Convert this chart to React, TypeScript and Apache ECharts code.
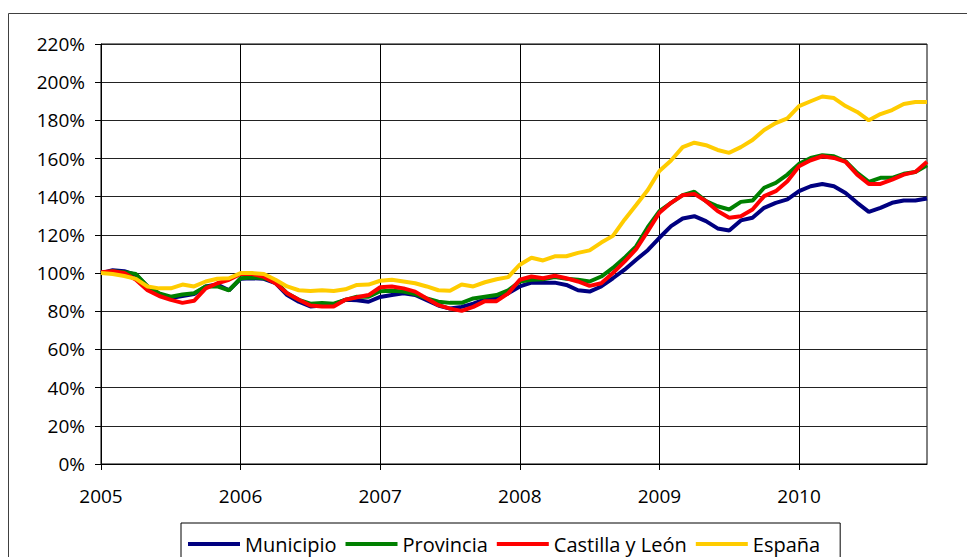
import React, { useEffect, useRef } from "react";
import * as echarts from "echarts";

const YEARS = ["2005", "2006", "2007", "2008", "2009", "2010"];
const MONTHS = ["01", "02", "03", "04", "05", "06", "07", "08", "09", "10", "11", "12"];
const CATEGORIES = YEARS.flatMap((y) => MONTHS.map((m) => `${y}-${m}`));

const SERIES_NAMES = ["Municipio", "Provincia", "Castilla y León", "España"];
const COLORS = ["#000080", "#008000", "#FF0000", "#FFCC00"];

const MUNICIPIO = [
  100, 101.5, 101, 99, 93, 89, 87, 88, 89, 93, 94, 91,
  97, 97.3, 97, 94.7, 88.5, 85, 82.5, 83, 83.5, 86, 85.8, 85,
  87.5, 88.5, 89.4, 88.5, 85.8, 83, 81.4, 82.3, 84, 86.2, 86.7, 89.4,
  93, 95, 95, 95, 93.8, 91, 90.3, 93, 97.3, 101.8, 107, 112,
  118.5, 124.6, 128.6, 129.8, 127.2, 123.4, 122.3, 127.6, 129, 134.2, 136.8, 138.6,
  142.9, 145.5, 146.7, 145.5, 142, 136.8, 132.1, 134.2, 136.8, 138, 138, 139.1,
];

const PROVINCIA = [
  100, 101, 100.5, 99.5, 93, 89.4, 87.6, 88.8, 89.4, 93, 93, 91,
  97.3, 97.7, 97.3, 95.6, 89.4, 86, 84, 84.4, 84, 86, 87.6, 87.6,
  90.5, 90.8, 90.3, 89, 86.7, 85, 84.4, 84.4, 86.7, 87.6, 88.5, 91,
  95.6, 96.5, 96.8, 97.9, 97, 96.5, 95.6, 98.2, 102.7, 108, 114, 124,
  132.5, 136.8, 140.8, 142.6, 137.7, 135, 133.3, 137.3, 138, 144.7, 147.3, 151.6,
  157.2, 160.3, 161.7, 161.2, 158.6, 152.5, 147.8, 149.9, 149.9, 152, 153, 156.5,
];

const CASTILLA_LEON = [
  100.5, 101, 100, 96.5, 91, 88, 86, 84.4, 85.5, 92, 94.7, 96.5,
  99.5, 99.5, 98, 94.7, 89.4, 86, 83, 82.5, 82.5, 86, 87.3, 88.5,
  92.6, 93, 92, 90.3, 86.7, 83.2, 81.4, 80.2, 82.3, 85.3, 85.3, 89.4,
  96.5, 98.2, 97.3, 98.6, 97.3, 95.6, 93.3, 94.7, 100, 106, 112.5, 122,
  131.6, 136.8, 140.8, 141.5, 137.7, 132.5, 129, 129.8, 133.3, 140.3, 142.9, 148.1,
  156, 159.1, 161.2, 160.3, 158.3, 151.6, 146.7, 146.7, 149, 151.6, 153, 158.3,
];

const ESPANA = [
  100, 99.5, 98.5, 97, 93, 92, 92, 94, 93, 95.6, 97, 97.3,
  100, 100, 99.5, 96.5, 93, 91, 90.6, 91, 90.6, 91.5, 93.8, 94,
  96, 96.5, 95.6, 94.7, 93, 91, 90.8, 94, 93, 95.2, 96.8, 97.9,
  104.4, 108, 106.6, 108.8, 108.8, 110.6, 111.9, 116, 119.5, 128, 135.7, 143.5,
  153.5, 159, 166, 168.3, 167, 164.5, 163, 166, 169.7, 175, 178.6, 181,
  187.5, 190, 192.5, 191.7, 187.5, 184.4, 180, 183.3, 185.4, 188.6, 189.6, 189.6,
];

const SERIES_DATA = [MUNICIPIO, PROVINCIA, CASTILLA_LEON, ESPANA];

const FONT = "'Open Sans', 'Noto Sans', sans-serif";

export default function App() {
  const ref = useRef<HTMLDivElement>(null);

  useEffect(() => {
    if (!ref.current) return;
    const chart = echarts.init(ref.current, null, { renderer: "svg" });
    chart.setOption({
      animation: false,
      backgroundColor: "#ffffff",
      textStyle: { fontFamily: FONT },
      graphic: [
        {
          type: "rect",
          shape: { x: 8.5, y: 13.5, width: 1200, height: 800 },
          style: { fill: "none", stroke: "#404040", lineWidth: 1 },
          silent: true,
          z: -1,
        },
      ],
      grid: {
        left: 101,
        top: 44,
        right: 967 - 927,
        bottom: 557 - 464,
        show: true,
        borderColor: "#000",
        borderWidth: 1,
        backgroundColor: "transparent",
      },
      legend: {
        data: SERIES_NAMES,
        left: 181,
        top: 523,
        icon: "rect",
        itemWidth: 52,
        itemHeight: 4,
        itemGap: 9,
        padding: [11, 20, 24, 7],
        borderColor: "#000",
        borderWidth: 1,
        backgroundColor: "#fff",
        textStyle: { fontFamily: FONT, fontSize: 20, color: "#000" },
      },
      xAxis: {
        type: "category",
        data: CATEGORIES,
        boundaryGap: false,
        axisLine: { show: true, lineStyle: { color: "#000", width: 1 } },
        axisTick: { show: true, interval: 11, length: 6, lineStyle: { color: "#000" } },
        splitLine: { show: true, interval: 11, lineStyle: { color: "#000", width: 1 } },
        axisLabel: {
          interval: 11,
          margin: 22,
          fontFamily: FONT,
          fontSize: 19,
          color: "#000",
          formatter: (v: string) => v.slice(0, 4),
        },
      },
      yAxis: {
        type: "value",
        min: 0,
        max: 220,
        interval: 20,
        axisLine: { show: true, lineStyle: { color: "#000", width: 1 } },
        axisTick: { show: true, length: 6, lineStyle: { color: "#000" } },
        splitLine: { show: true, lineStyle: { color: "#222", width: 1 } },
        axisLabel: {
          margin: 16,
          fontFamily: FONT,
          fontSize: 19,
          color: "#000",
          formatter: "{value}%",
        },
      },
      series: SERIES_NAMES.map((name, i) => ({
        name,
        type: "line",
        data: SERIES_DATA[i],
        symbol: "none",
        smooth: false,
        lineStyle: { color: COLORS[i], width: 4 },
        itemStyle: { color: COLORS[i] },
      })),
    });
    return () => chart.dispose();
  }, []);

  return (
    <div
      ref={ref}
      style={{ position: "absolute", left: 0, top: 0, width: 967, height: 557 }}
    />
  );
}
